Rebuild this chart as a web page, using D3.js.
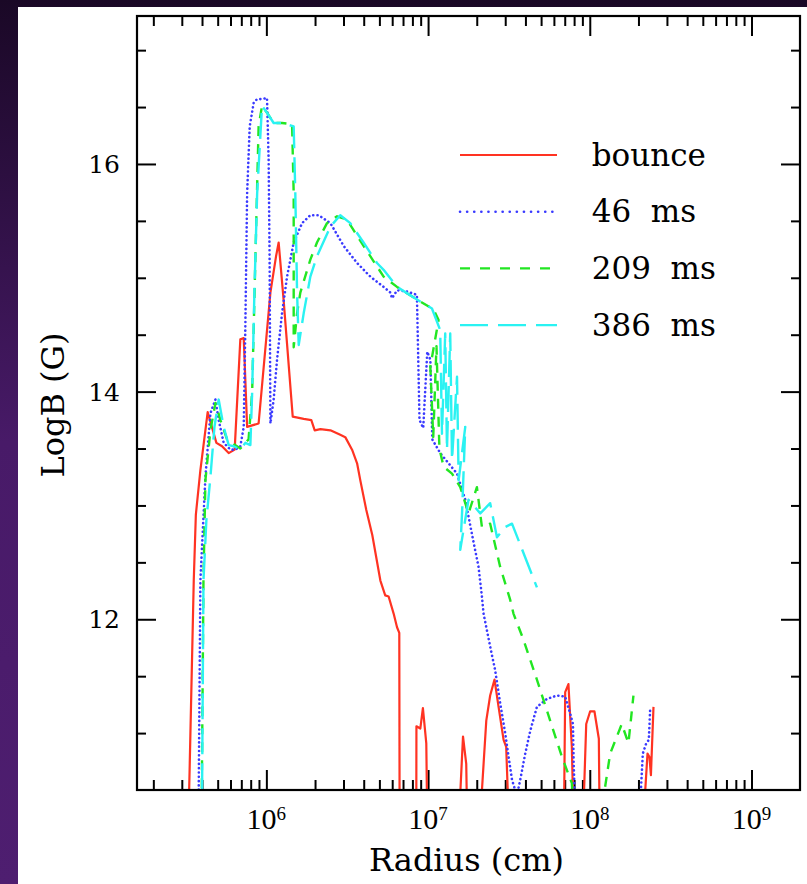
<!DOCTYPE html>
<html>
<head>
<meta charset="utf-8">
<script src="https://cdn.jsdelivr.net/npm/d3@7"></script>
<style>
body { margin: 0; background: #1a0826; }
svg { display: block; }
text { font-family: "DejaVu Serif", serif; fill: #000; }
</style>
</head>
<body>
<div id="chart"></div>
<script>
// log10(radius/cm) and LogB (G); 10.2 = below the axis (clipped)
var bounceLogR = [5.518, 5.551, 5.564, 5.592, 5.637, 5.691, 5.726, 5.767, 5.804, 5.839, 5.860, 5.881, 5.952, 6.025, 6.060, 6.076, 6.107, 6.163, 6.231, 6.278, 6.299, 6.334, 6.396, 6.457, 6.488, 6.530, 6.561, 6.581, 6.618, 6.655, 6.705, 6.735, 6.756, 6.787, 6.808, 6.822, 6.824,
  6.927, 6.928, 6.952, 6.968, 6.989, 6.995, 7.190, 7.216, 7.236, 7.242, 7.320, 7.360, 7.384, 7.411, 7.436, 7.467, 7.483, 7.500,
  7.840, 7.848, 7.868, 7.879, 7.889, 7.900, 7.958, 7.978, 8.002, 8.029, 8.056, 8.061, 8.330, 8.357, 8.369, 8.378, 8.394];
var bounceLogB = [10.2, 12.34, 12.92, 13.31, 13.82, 13.55, 13.52, 13.46, 13.49, 14.46, 14.47, 13.69, 13.72, 14.87, 15.19, 15.31, 14.80, 13.78, 13.76, 13.75, 13.66, 13.67, 13.66, 13.62, 13.60, 13.49, 13.37, 13.22, 12.96, 12.74, 12.34, 12.21, 12.20, 12.05, 11.93, 11.88, 10.2,
  10.2, 11.06, 11.04, 11.22, 10.91, 10.2, 10.2, 10.97, 10.73, 10.2, 10.2, 11.11, 11.33, 11.47, 11.23, 10.94, 10.88, 10.2,
  10.2, 11.36, 11.43, 11.14, 10.88, 10.2, 10.2, 11.08, 11.19, 11.19, 10.95, 10.2, 10.2, 10.82, 10.79, 10.63, 11.23];

var ms46LogR = [5.580, 5.592, 5.623, 5.654, 5.685, 5.705, 5.736, 5.778, 5.808, 5.839, 5.860, 5.870, 5.881, 5.897, 5.922, 5.943, 5.973, 6.004, 6.014, 6.020, 6.025, 6.045, 6.066, 6.097, 6.128, 6.169, 6.221, 6.272, 6.323, 6.396, 6.478, 6.561, 6.643, 6.725, 6.767, 6.777, 6.808, 6.870, 6.931,
  6.947, 6.970, 6.995, 7.014, 7.026, 7.075, 7.179, 7.230, 7.271, 7.312, 7.333, 7.343, 7.384, 7.415, 7.446, 7.477, 7.498, 7.519, 7.549, 7.570, 7.601, 7.632, 7.673, 7.735, 7.797, 7.848, 7.879, 7.896, 7.900, 7.912,
  8.305, 8.328, 8.349, 8.365, 8.374];
var ms46LogB = [10.2, 12.34, 13.25, 13.81, 13.93, 13.75, 13.55, 13.49, 13.49, 13.52, 13.69, 14.57, 15.74, 16.33, 16.54, 16.57, 16.57, 16.58, 16.04, 15.16, 13.72, 13.93, 14.28, 14.69, 15.01, 15.31, 15.48, 15.55, 15.55, 15.48, 15.28, 15.13, 15.01, 14.92, 14.87, 14.82, 14.89, 14.88, 14.85,
  13.75, 13.68, 14.35, 14.28, 13.58, 13.46, 13.28, 13.05, 12.75, 12.46, 12.20, 12.05, 11.76, 11.55, 11.26, 11.00, 10.79, 10.59, 10.45, 10.59, 10.82, 11.02, 11.23, 11.30, 11.33, 11.32, 11.17, 11.08, 10.76, 10.2,
  10.2, 10.82, 10.91, 10.94, 11.23];

var ms209LogR = [5.599, 5.611, 5.623, 5.654, 5.685, 5.716, 5.757, 5.839, 5.890, 5.912, 5.932, 5.952, 5.973, 6.004, 6.045, 6.097, 6.159, 6.169, 6.169, 6.190, 6.210, 6.272, 6.313, 6.375, 6.437, 6.499, 6.601, 6.684, 6.725, 6.808, 6.931,
  7.024, 7.034, 7.065, 7.014, 7.032, 7.052, 7.070, 7.096, 7.148, 7.199, 7.250, 7.302, 7.333, 7.384, 7.446, 7.508, 7.528, 7.590, 7.673, 7.755, 7.828, 7.889, 7.902, 8.060, 8.126, 8.198, 8.239, 8.270];
var ms209LogB = [10.2, 12.34, 13.22, 13.66, 13.90, 13.75, 13.58, 13.50, 13.58, 13.99, 15.16, 16.33, 16.51, 16.45, 16.36, 16.36, 16.35, 15.74, 14.39, 14.69, 14.87, 15.16, 15.31, 15.48, 15.54, 15.51, 15.28, 15.10, 15.01, 14.92, 14.81,
  14.73, 14.72, 14.63, 14.22, 13.60, 14.40, 13.50, 13.34, 13.28, 13.16, 12.93, 13.16, 12.81, 12.84, 12.46, 12.17, 12.05, 11.82, 11.47, 11.11, 10.79, 10.56, 10.2, 10.2, 10.82, 11.08, 10.91, 11.33];

var ms386LogR = [5.601, 5.611, 5.629, 5.654, 5.679, 5.705, 5.736, 5.767, 5.798, 5.839, 5.870, 5.901, 5.912, 5.926, 5.943, 5.973, 6.004, 6.045, 6.097, 6.169, 6.179, 6.190, 6.200, 6.231, 6.272, 6.313, 6.396, 6.457, 6.519, 6.601, 6.684, 6.725, 6.808, 6.931,
  7.024, 7.075, 7.086, 7.106, 7.117, 7.137, 7.148, 7.179, 7.189, 7.230, 7.210, 7.199, 7.250, 7.323, 7.384, 7.426, 7.477, 7.519, 7.673];
var ms386LogB = [10.2, 12.34, 12.87, 13.25, 13.69, 13.93, 13.69, 13.53, 13.52, 13.49, 13.55, 13.53, 13.99, 14.87, 15.74, 16.51, 16.45, 16.36, 16.36, 16.33, 15.74, 14.87, 14.41, 14.69, 15.01, 15.19, 15.45, 15.55, 15.48, 15.31, 15.13, 15.07, 14.92, 14.81,
  14.73, 14.54, 13.63, 14.51, 13.49, 14.51, 13.40, 14.13, 13.22, 13.69, 12.93, 12.61, 13.05, 12.93, 13.02, 12.72, 12.81, 12.84, 12.28];

var seriesNames = ["bounce", "46  ms", "209  ms", "386  ms"];
var seriesColors = ["#ff3322", "#3a3aff", "#22e622", "#2af2f2"];
var xMajorExp = [6, 7, 8, 9];
var yMajor = [12, 14, 16];

var W = 807, H = 884;
var margin = {left: 137, top: 16};
var width = 800 - 137, height = 790 - 16;

var svg = d3.select("#chart").append("svg").attr("width", W).attr("height", H);

var defs = svg.append("defs");
var grad = defs.append("linearGradient").attr("id", "bg").attr("x1", 0).attr("y1", 0).attr("x2", 0).attr("y2", 1);
grad.append("stop").attr("offset", "0").attr("stop-color", "#1a0826");
grad.append("stop").attr("offset", "0.5").attr("stop-color", "#481a68");
grad.append("stop").attr("offset", "1").attr("stop-color", "#4e1e70");
defs.append("clipPath").attr("id", "plotclip").append("rect").attr("width", width).attr("height", height);

svg.append("rect").attr("width", W).attr("height", H).attr("fill", "url(#bg)");
svg.append("rect").attr("x", 18).attr("y", 7).attr("width", W - 18).attr("height", H - 7).attr("fill", "#fff");

var g = svg.append("g").attr("transform", "translate(" + margin.left + "," + margin.top + ")");

var x = d3.scaleLog().domain([Math.pow(10, 5.2), Math.pow(10, 9.3)]).range([0, width]);
var y = d3.scaleLinear().domain([10.5, 17.3]).range([height, 0]);

var xMajor = xMajorExp.map(function(e) { return Math.pow(10, e); });
var xMinor = [];
[5, 6, 7, 8, 9].forEach(function(e) {
  for (var k = 2; k <= 9; k++) {
    var v = k * Math.pow(10, e);
    if (v > x.domain()[0] && v < x.domain()[1]) xMinor.push(v);
  }
});
var yMinor = d3.range(11, 17.01, 0.5).filter(function(v) { return yMajor.indexOf(v) < 0; });

function tickAxis(axis, vals, size) {
  return axis.tickValues(vals).tickSize(-size).tickSizeOuter(0).tickFormat("");
}
var axes = [
  [tickAxis(d3.axisBottom(x), xMajor, 20), "translate(0," + height + ")"],
  [tickAxis(d3.axisBottom(x), xMinor, 10), "translate(0," + height + ")"],
  [tickAxis(d3.axisTop(x), xMajor, 20), null],
  [tickAxis(d3.axisTop(x), xMinor, 10), null],
  [tickAxis(d3.axisLeft(y), yMajor, 19), null],
  [tickAxis(d3.axisLeft(y), yMinor, 9), null],
  [tickAxis(d3.axisRight(y), yMajor, 19), "translate(" + width + ",0)"],
  [tickAxis(d3.axisRight(y), yMinor, 9), "translate(" + width + ",0)"]
];
axes.forEach(function(a) {
  var ag = g.append("g").call(a[0]);
  if (a[1]) ag.attr("transform", a[1]);
  ag.select(".domain").remove();
  ag.selectAll(".tick line").attr("stroke", "#000").attr("stroke-width", 2);
});

// curves
var line = d3.line()
  .x(function(d) { return x(Math.pow(10, d[0])); })
  .y(function(d) { return y(d[1]); });

var series = [
  {data: d3.zip(bounceLogR, bounceLogB), dash: null, cap: "butt", sw: 2.2, legDash: null},
  {data: d3.zip(ms46LogR, ms46LogB), dash: "0.1,4.2", cap: "round", sw: 2.6, legDash: "0.1,7"},
  {data: d3.zip(ms209LogR, ms209LogB), dash: "10,8", cap: "butt", sw: 2.4, legDash: "10,10"},
  {data: d3.zip(ms386LogR, ms386LogB), dash: "26,9", cap: "butt", sw: 2.4, legDash: "28,10"}
];

var plot = g.append("g").attr("clip-path", "url(#plotclip)");
series.forEach(function(s, i) {
  plot.append("path")
    .attr("d", line(s.data))
    .attr("fill", "none")
    .attr("stroke", seriesColors[i])
    .attr("stroke-width", s.sw)
    .attr("stroke-linejoin", "round")
    .attr("stroke-linecap", s.cap)
    .attr("stroke-dasharray", s.dash);
});

// frame
g.append("rect").attr("width", width).attr("height", height)
  .attr("fill", "none").attr("stroke", "#000").attr("stroke-width", 2.2);

// tick labels
var xl = g.selectAll(".xlab").data(xMajorExp).enter().append("text")
  .attr("class", "xlab")
  .attr("x", function(e) { return x(Math.pow(10, e)); })
  .attr("y", height + 39)
  .attr("text-anchor", "middle")
  .style("font-family", "'Liberation Serif', serif");
xl.append("tspan").style("font-size", "30px").text("10");
xl.append("tspan").style("font-size", "19px").attr("dy", -9).text(function(e) { return e; });

g.selectAll(".ylab").data(yMajor).enter().append("text")
  .attr("x", -17)
  .attr("y", function(v) { return y(v); })
  .attr("dy", "0.36em")
  .attr("text-anchor", "end")
  .style("font-size", "25px")
  .text(function(v) { return v; });

// axis titles
g.append("text")
  .attr("x", width / 2 - 2)
  .attr("y", height + 81)
  .attr("text-anchor", "middle")
  .style("font-size", "32px")
  .text("Radius (cm)");

g.append("text")
  .attr("transform", "translate(-73," + (height / 2 + 2) + ") rotate(-90)")
  .attr("text-anchor", "middle")
  .style("font-size", "32px")
  .text("LogB (G)");

// legend
var leg = g.append("g").attr("transform", "translate(323,139)");
series.forEach(function(s, i) {
  var row = leg.append("g").attr("transform", "translate(0," + (i * 56.7) + ")");
  row.append("line").attr("x1", 0).attr("x2", 97)
    .attr("stroke", seriesColors[i])
    .attr("stroke-width", s.sw)
    .attr("stroke-linecap", s.cap)
    .attr("stroke-dasharray", s.legDash);
  row.append("text").attr("x", 131.7).attr("y", 10.5)
    .style("font-size", "31px")
    .style("white-space", "pre")
    .text(seriesNames[i]);
});
</script>
</body>
</html>
